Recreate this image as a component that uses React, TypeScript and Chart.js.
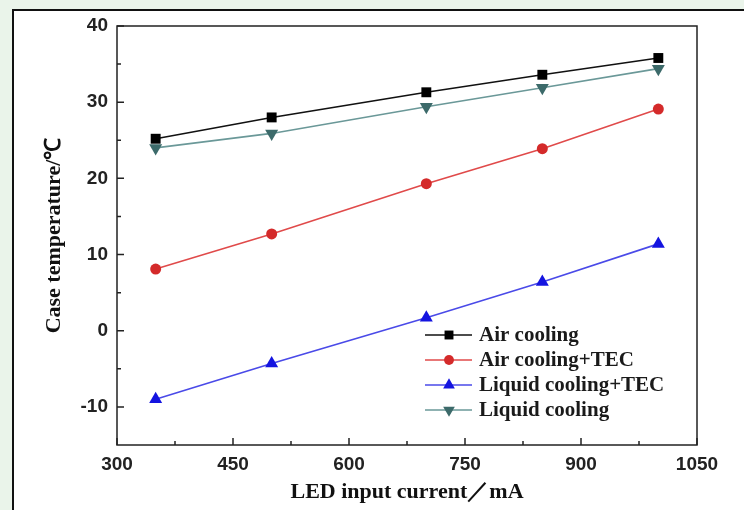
import React, { useEffect, useRef } from 'react';
import { Chart, registerables } from 'chart.js';

Chart.register(...registerables);

const currents = [350, 500, 700, 850, 1000];
const airCooling = [25.2, 28.0, 31.3, 33.6, 35.8];
const airCoolingTEC = [8.1, 12.7, 19.3, 23.9, 29.1];
const liquidCoolingTEC = [-9.0, -4.3, 1.7, 6.4, 11.4];
const liquidCooling = [24.0, 25.9, 29.4, 31.9, 34.4];
const xTicks = [300, 450, 600, 750, 900, 1050];
const xMinorTicks = [375, 525, 675, 825, 975];
const yTicks = [-10, 0, 10, 20, 30, 40];
const yMinorTicks = [-5, 5, 15, 25, 35];
const seriesNames = ['Air cooling', 'Air cooling+TEC', 'Liquid cooling+TEC', 'Liquid cooling'];

const lineColors = ['#111111', '#e04a4a', '#4a4ae8', '#6a9898'];
const markerColors = ['#000000', '#d42a2a', '#1414e0', '#3c6a6a'];
const pointStyles = ['rect', 'circle', 'triangle', 'triangle'];
const pointRotations = [0, 0, 0, 180];
const pointRadii = [7, 5.5, 7.5, 7.5];

function drawMarker(ctx: CanvasRenderingContext2D, style: string, rot: number, r: number, x: number, y: number, color: string) {
  ctx.save();
  ctx.fillStyle = color;
  ctx.beginPath();
  if (style === 'rect') {
    const s = Math.SQRT1_2 * r;
    ctx.rect(x - s, y - s, 2 * s, 2 * s);
  } else if (style === 'circle') {
    ctx.arc(x, y, r, 0, Math.PI * 2);
  } else {
    const a0 = (rot * Math.PI) / 180 - Math.PI / 2;
    for (let k = 0; k < 3; k++) {
      const a = a0 + (k * 2 * Math.PI) / 3;
      const px = x + Math.cos(a) * r;
      const py = y + Math.sin(a) * r;
      if (k === 0) ctx.moveTo(px, py);
      else ctx.lineTo(px, py);
    }
    ctx.closePath();
  }
  ctx.fill();
  ctx.restore();
}

const framePlugin = {
  id: 'framePlugin',
  beforeDraw(chart: any) {
    const ctx = chart.ctx as CanvasRenderingContext2D;
    ctx.save();
    ctx.fillStyle = '#eaf4ea';
    ctx.fillRect(0, 0, chart.width, chart.height);
    ctx.fillStyle = '#ffffff';
    ctx.fillRect(12, 9, chart.width, chart.height);
    ctx.strokeStyle = '#111111';
    ctx.lineWidth = 2;
    ctx.beginPath();
    ctx.moveTo(13, chart.height);
    ctx.lineTo(13, 10);
    ctx.lineTo(chart.width, 10);
    ctx.stroke();
    ctx.restore();
  },
  afterDraw(chart: any) {
    const ctx = chart.ctx as CanvasRenderingContext2D;
    const ca = chart.chartArea;
    const xs = chart.scales.x;
    const ys = chart.scales.y;
    ctx.save();
    ctx.strokeStyle = '#222222';
    ctx.lineWidth = 1.5;
    ctx.strokeRect(ca.left, ca.top, ca.right - ca.left, ca.bottom - ca.top);
    ctx.beginPath();
    xTicks.forEach((v) => {
      const px = xs.getPixelForValue(v);
      ctx.moveTo(px, ca.bottom);
      ctx.lineTo(px, ca.bottom - 7);
    });
    xMinorTicks.forEach((v) => {
      const px = xs.getPixelForValue(v);
      ctx.moveTo(px, ca.bottom);
      ctx.lineTo(px, ca.bottom - 4);
    });
    yTicks.forEach((v) => {
      const py = ys.getPixelForValue(v);
      ctx.moveTo(ca.left, py);
      ctx.lineTo(ca.left + 7, py);
    });
    yMinorTicks.forEach((v) => {
      const py = ys.getPixelForValue(v);
      ctx.moveTo(ca.left, py);
      ctx.lineTo(ca.left + 4, py);
    });
    ctx.stroke();

    // legend
    const lx = ca.left + 308;
    const ly = ca.top + 309;
    ctx.font = 'bold 21px "Liberation Serif", "Times New Roman", serif';
    ctx.textBaseline = 'middle';
    ctx.textAlign = 'left';
    seriesNames.forEach((name, i) => {
      const y = ly + i * 25;
      ctx.strokeStyle = lineColors[i];
      ctx.lineWidth = 1.5;
      ctx.beginPath();
      ctx.moveTo(lx, y);
      ctx.lineTo(lx + 47, y);
      ctx.stroke();
      drawMarker(ctx, pointStyles[i], pointRotations[i], pointRadii[i] * 0.9, lx + 24, y, markerColors[i]);
      ctx.fillStyle = '#1a1a1a';
      ctx.fillText(name, lx + 54, y + 1);
    });
    ctx.restore();
  },
};

export default function App() {
  const ref = useRef<HTMLCanvasElement>(null);

  useEffect(() => {
    if (!ref.current) return;
    const seriesData = [airCooling, airCoolingTEC, liquidCoolingTEC, liquidCooling];
    const datasets = seriesData.map((vals, i) => ({
      label: seriesNames[i],
      data: vals.map((v, j) => ({ x: currents[j], y: v })),
      borderColor: lineColors[i],
      backgroundColor: markerColors[i],
      pointBackgroundColor: markerColors[i],
      pointBorderColor: markerColors[i],
      pointBorderWidth: 0,
      borderWidth: 1.6,
      pointStyle: pointStyles[i],
      rotation: pointRotations[i],
      pointRadius: pointRadii[i],
      tension: 0,
    }));
    const tickFont = { family: '"Liberation Sans", Arial, sans-serif', weight: 'bold' as const, size: 19 };
    const titleFont = { family: '"Liberation Serif", "Times New Roman", serif', weight: 'bold' as const, size: 22 };
    const chart = new Chart(ref.current, {
      type: 'line',
      data: { datasets },
      plugins: [framePlugin],
      options: {
        animation: false,
        responsive: false,
        layout: { padding: { top: 26, right: 47, left: 0, bottom: 0 } },
        plugins: { legend: { display: false }, tooltip: { enabled: false } },
        scales: {
          x: {
            type: 'linear',
            min: 300,
            max: 1050,
            afterBuildTicks: (s: any) => {
              s.ticks = xTicks.map((v) => ({ value: v }));
            },
            afterFit: (s: any) => {
              s.height = 65;
            },
            grid: { display: false, drawTicks: false },
            border: { display: false },
            ticks: {
              font: tickFont,
              color: '#222222',
              padding: 8,
              maxRotation: 0,
              callback: (v: any) => String(v),
            },
            title: {
              display: true,
              text: 'LED input current／mA',
              font: titleFont,
              color: '#111111',
              padding: { top: 0, bottom: 4 },
            },
          },
          y: {
            type: 'linear',
            min: -15,
            max: 40,
            afterBuildTicks: (s: any) => {
              s.ticks = yTicks.map((v) => ({ value: v }));
            },
            afterFit: (s: any) => {
              s.width = 117;
            },
            grid: { display: false, drawTicks: false },
            border: { display: false },
            ticks: {
              font: tickFont,
              color: '#222222',
              padding: 9,
              callback: (v: any) => String(v),
            },
            title: {
              display: true,
              text: 'Case temperature/℃',
              font: titleFont,
              color: '#111111',
              padding: { top: 41, bottom: 0 },
            },
          },
        },
      },
    });
    return () => chart.destroy();
  }, []);

  return (
    <div style={{ position: 'absolute', left: 0, top: 0, width: 744, height: 510 }}>
      <canvas ref={ref} width={744} height={510} style={{ width: 744, height: 510, display: 'block' }} />
    </div>
  );
}
